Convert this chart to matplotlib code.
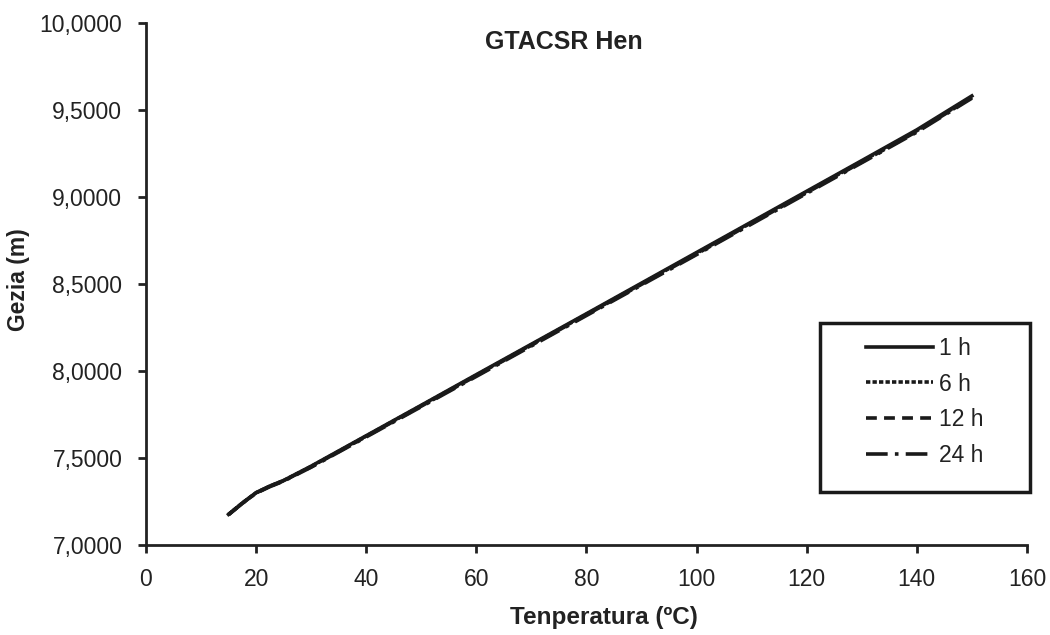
import matplotlib
matplotlib.use('Agg')
import matplotlib.pyplot as plt
from matplotlib.ticker import FuncFormatter
from matplotlib.patches import Rectangle

plt.rcParams['font.family'] = ['Liberation Sans', 'DejaVu Sans']

# temperatura (C) eta gezia (m) serie bakoitzeko
temps = [15, 17.5, 20, 22.5, 25, 30, 40, 50, 60, 70, 80, 90, 100, 110, 120, 130, 140, 150]
sag_1h = [7.175, 7.240, 7.300, 7.338, 7.370, 7.452, 7.627, 7.802, 7.978, 8.153,
          8.328, 8.504, 8.680, 8.856, 9.032, 9.208, 9.385, 9.580]
sag_6h = [7.175, 7.240, 7.299, 7.337, 7.369, 7.450, 7.625, 7.800, 7.975, 8.150,
          8.325, 8.500, 8.676, 8.852, 9.028, 9.204, 9.380, 9.575]
sag_12h = [7.174, 7.239, 7.298, 7.336, 7.368, 7.448, 7.623, 7.797, 7.972, 8.147,
           8.322, 8.497, 8.672, 8.848, 9.024, 9.200, 9.376, 9.571]
sag_24h = [7.173, 7.238, 7.297, 7.334, 7.366, 7.446, 7.620, 7.794, 7.968, 8.143,
           8.318, 8.493, 8.668, 8.844, 9.020, 9.196, 9.372, 9.567]
labels = ['1 h', '6 h', '12 h', '24 h']

fig = plt.figure(figsize=(10.5, 6.35), dpi=100)
ax = fig.add_axes([0.139, 0.142, 0.839, 0.822])

styles = ['-', (0, (1.2, 0.6)), (0, (3, 2)), (0, (6, 2, 1, 2))]
for ys, lab, ls in zip([sag_1h, sag_6h, sag_12h, sag_24h], labels, styles):
    ax.plot(temps, ys, color='#1a1a1a', lw=2.6, ls=ls, label=lab)

ax.set_xlim(0, 160)
ax.set_ylim(7.0, 10.0)
ax.set_xticks(range(0, 161, 20))
ax.set_yticks([7.0, 7.5, 8.0, 8.5, 9.0, 9.5, 10.0])
ax.yaxis.set_major_formatter(FuncFormatter(lambda v, p: ('%.4f' % v).replace('.', ',')))

for s in ['top', 'right']:
    ax.spines[s].set_visible(False)
for s in ['left', 'bottom']:
    ax.spines[s].set_linewidth(2.0)
    ax.spines[s].set_color('#222222')
ax.tick_params(direction='out', length=6, width=2, color='#222222',
               labelsize=16.5, labelcolor='#222222')
ax.tick_params(axis='x', pad=11)
ax.tick_params(axis='y', pad=11)

ax.text(0.474, 0.964, 'GTACSR Hen', transform=ax.transAxes, ha='center', va='center',
        fontsize=18, fontweight='bold', color='#222222')
ax.set_xlabel('Tenperatura (ºC)', fontsize=17.5, fontweight='bold',
              color='#222222', va='center')
ax.xaxis.set_label_coords(0.52, -0.14)
ax.set_ylabel('Gezia (m)', fontsize=16.5, fontweight='bold',
              color='#222222', va='center')
ax.yaxis.set_label_coords(-0.145, 0.508)

# legend box drawn by hand, entries centred in it
box = Rectangle((0.765, 0.1015), 0.2384, 0.3235, transform=ax.transAxes,
                fill=False, lw=2.5, edgecolor='#1a1a1a', clip_on=False, zorder=5)
ax.add_patch(box)
leg = ax.legend(loc='center', bbox_to_anchor=(0.884, 0.274), fontsize=16.5,
                frameon=False, handlelength=2.9, handletextpad=0.25,
                labelspacing=0.55, borderpad=0.0)
for t in leg.get_texts():
    t.set_color('#222222')

fig.savefig('out.png', dpi=100)
